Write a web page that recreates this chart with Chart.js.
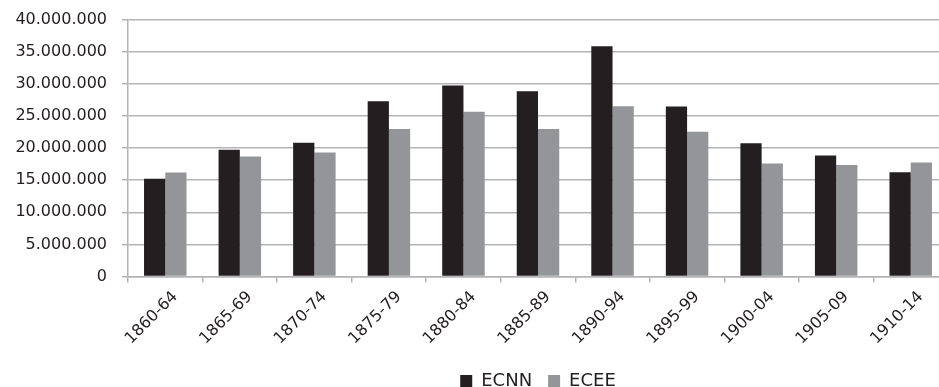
<!DOCTYPE html>
<html lang="es">
<head>
  <meta charset="UTF-8">
  <title>ECNN / ECEE</title>
  <script src="https://cdn.jsdelivr.net/npm/chart.js"></script>
  <style>
    html, body {
      margin: 0;
      padding: 0;
      background: #fff;
      overflow: hidden;
    }
    #wrap {
      width: 948px;
      height: 387px;
    }
  </style>
</head>
<body>

  <div id="wrap"><canvas id="ecChart"></canvas></div>

  <script>
    // periodos quinquenales
    const periodos = ['1860-64', '1865-69', '1870-74', '1875-79', '1880-84', '1885-89',
                      '1890-94', '1895-99', '1900-04', '1905-09', '1910-14'];

    const ecnn = [15240000, 19740000, 20840000, 27300000, 29770000, 28880000,
                  35880000, 26480000, 20780000, 18850000, 16230000];
    const ecee = [16190000, 18690000, 19320000, 22970000, 25690000, 22970000,
                  26530000, 22560000, 17600000, 17390000, 17750000];

    const yMax = 40000000;
    const yStep = 5000000;

    const gris = '#b4b4b8';
    const texto = '#231f20';

    // 40000000 -> "40.000.000"
    function miles(v) {
      return String(v).replace(/\B(?=(\d{3})+(?!\d))/g, '.');
    }

    // leyenda centrada sobre el área del gráfico y pegada al borde inferior
    const leyendaCentrada = {
      id: 'leyendaCentrada',
      afterLayout(chart) {
        const lg = chart.legend;
        const area = chart.chartArea;
        const h = lg.bottom - lg.top;
        lg.left = area.left;
        lg.right = area.right;
        lg.top = 356;
        lg.bottom = 356 + h;
      }
    };

    const ctx = document.getElementById('ecChart').getContext('2d');
    new Chart(ctx, {
      type: 'bar',
      data: {
        labels: periodos,
        datasets: [
          {
            label: 'ECNN',
            data: ecnn,
            backgroundColor: '#231f20',
            borderWidth: 0,
            categoryPercentage: 0.57,
            barPercentage: 1.0
          },
          {
            label: 'ECEE',
            data: ecee,
            backgroundColor: '#939598',
            borderWidth: 0,
            categoryPercentage: 0.57,
            barPercentage: 1.0
          }
        ]
      },
      options: {
        responsive: true,
        maintainAspectRatio: false,
        animation: false,
        layout: {
          // la leyenda se recoloca después; el eje x necesita sitio para las etiquetas
          padding: { top: 0, right: 0, bottom: -34, left: 0 }
        },
        scales: {
          x: {
            offset: true,
            afterFit(scale) {
              scale.height = 100.5;
            },
            grid: {
              offset: true,
              drawOnChartArea: false,
              color: gris,
              lineWidth: 1.5,
              tickLength: 6
            },
            border: { display: true, color: gris, width: 1.5 },
            ticks: {
              color: texto,
              font: { family: 'DejaVu Sans', size: 16 },
              minRotation: 45,
              maxRotation: 45,
              labelOffset: 10,
              padding: 5
            }
          },
          y: {
            min: 0,
            max: yMax,
            afterFit(scale) {
              scale.width = 128;
            },
            grid: {
              color: gris,
              lineWidth: 1.5,
              tickLength: 6
            },
            border: { display: true, color: gris, width: 1.5 },
            ticks: {
              stepSize: yStep,
              color: texto,
              // lineHeight corto: el margen superior queda en 20px
              font: { family: 'DejaVu Sans', size: 16, lineHeight: 0.6 },
              padding: 15,
              callback: v => miles(v)
            }
          }
        },
        plugins: {
          legend: {
            position: 'bottom',
            labels: {
              color: texto,
              font: { family: 'DejaVu Sans', size: 18 },
              boxWidth: 12,
              boxHeight: 12,
              padding: 16
            }
          },
          tooltip: { enabled: false }
        }
      },
      plugins: [leyendaCentrada]
    });
  </script>

</body>
</html>
